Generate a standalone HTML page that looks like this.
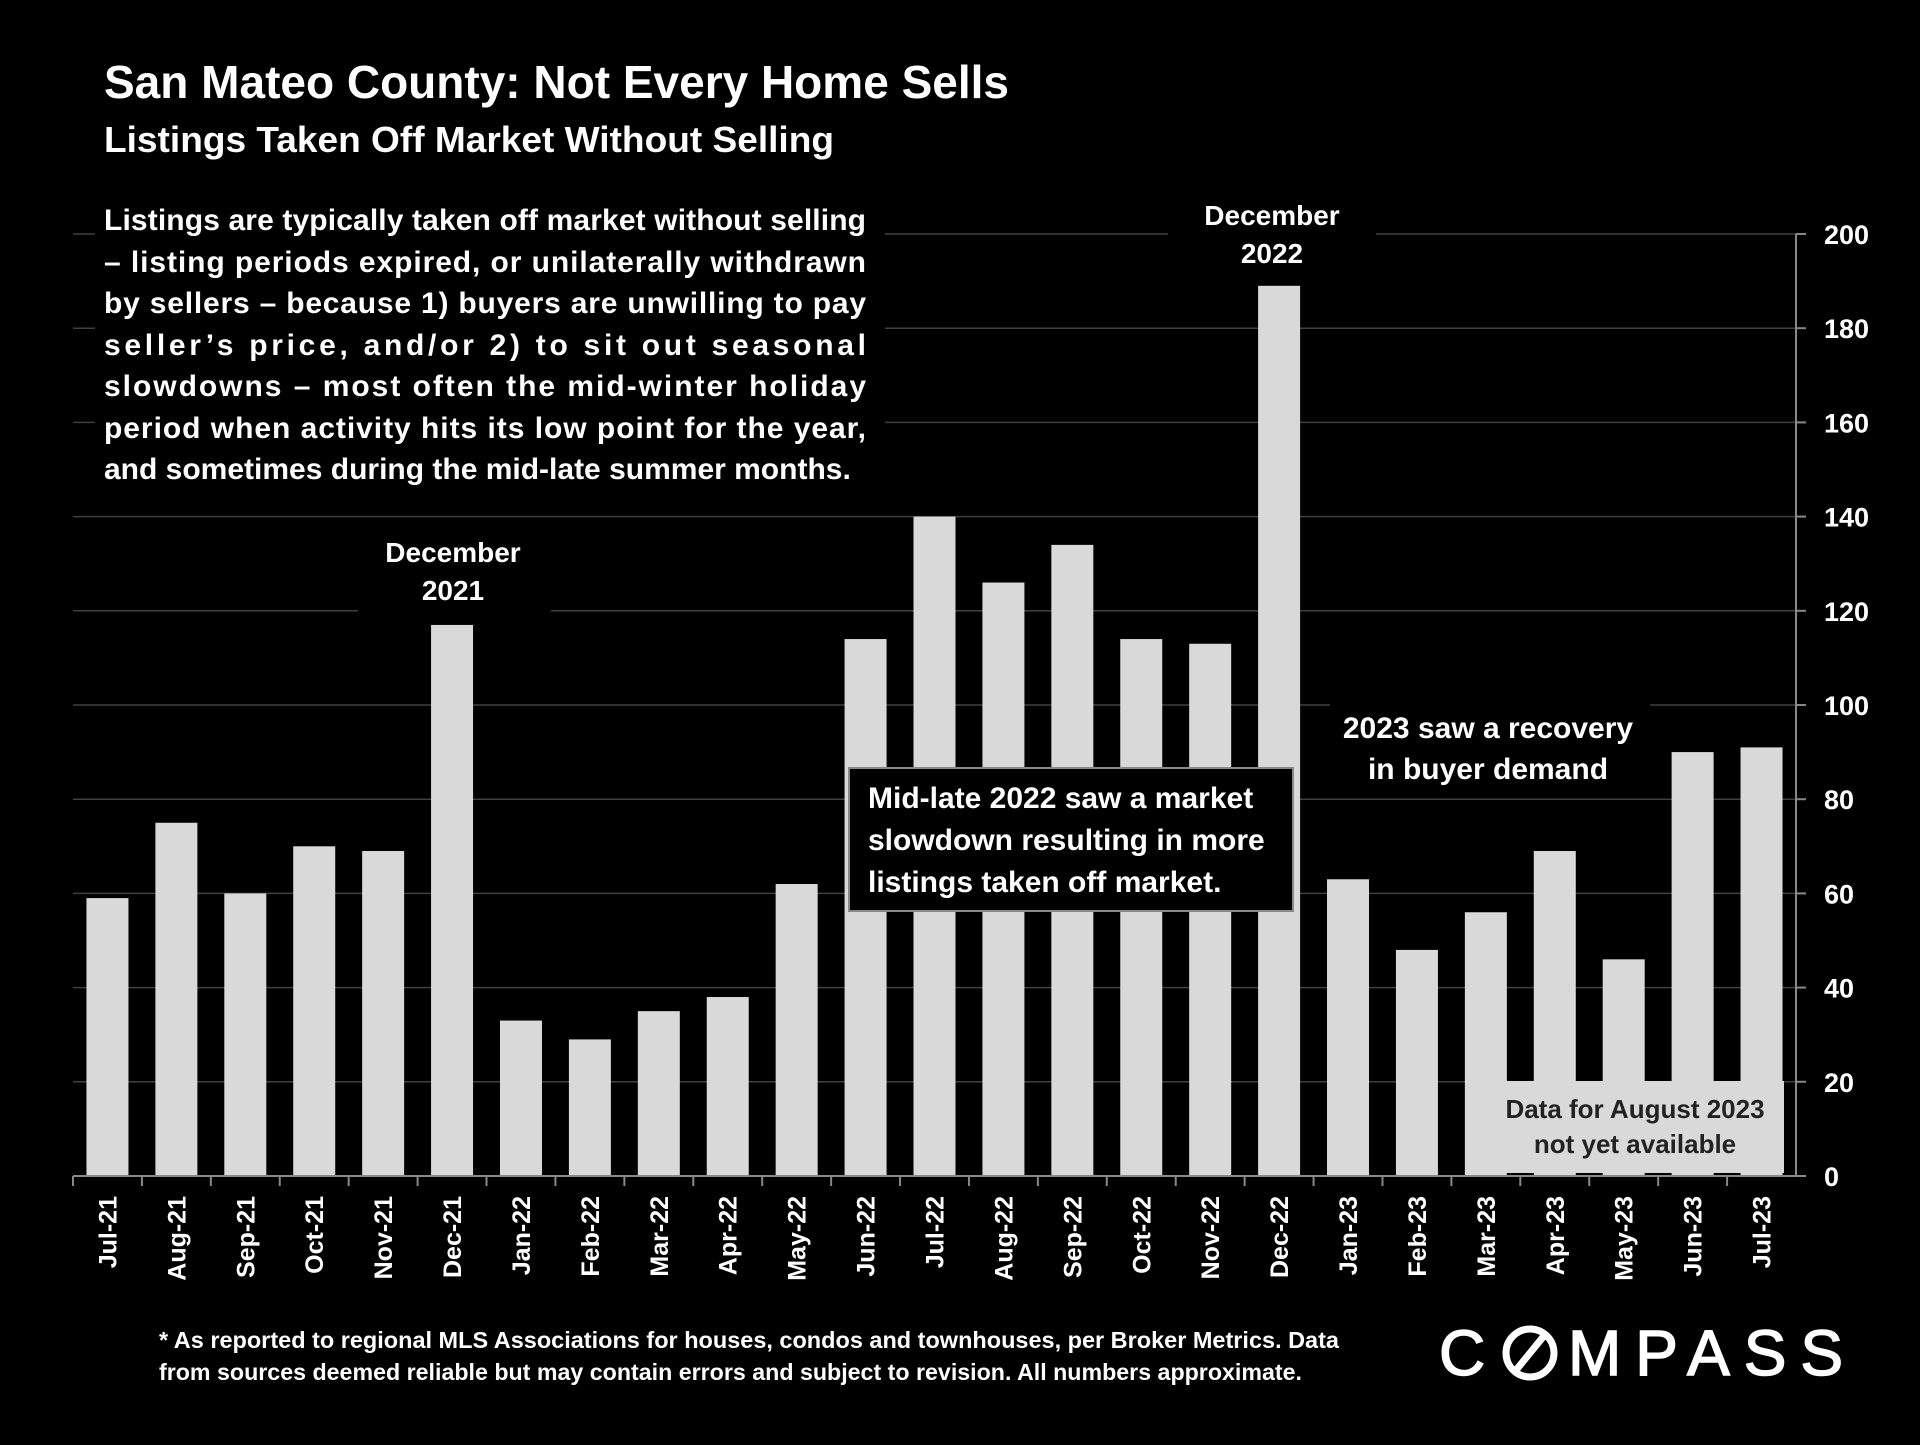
<!DOCTYPE html>
<html><head><meta charset="utf-8"><style>
body{margin:0;background:#000;width:1920px;height:1440px;overflow:hidden;font-family:"Liberation Sans",sans-serif;}
</style></head><body>
<svg id="chart" width="1920" height="1440" xmlns="http://www.w3.org/2000/svg" font-family="Liberation Sans, sans-serif">
<rect width="1920" height="1440" fill="#000"/>
<g id="grid"></g><g id="bars"></g><g id="axes"></g>
<text x="104" y="98" fill="#fff" font-size="46" font-weight="bold" textLength="905" lengthAdjust="spacingAndGlyphs">San Mateo County: Not Every Home Sells</text>
<text x="104" y="152" fill="#fff" font-size="36" font-weight="bold" textLength="730" lengthAdjust="spacingAndGlyphs">Listings Taken Off Market Without Selling</text>
<rect x="95" y="195" width="790" height="295" fill="#000"/>
<g fill="#fff" font-size="30" font-weight="bold">
<text x="104" y="230" textLength="762" lengthAdjust="spacing">Listings are typically taken off market without selling</text>
<text x="104" y="272" textLength="762" lengthAdjust="spacing">– listing periods expired, or unilaterally withdrawn</text>
<text x="104" y="313" textLength="762" lengthAdjust="spacing">by sellers – because 1) buyers are unwilling to pay</text>
<text x="104" y="355" textLength="762" lengthAdjust="spacing">seller’s price, and/or 2) to sit out seasonal</text>
<text x="104" y="396" textLength="762" lengthAdjust="spacing">slowdowns – most often the mid-winter holiday</text>
<text x="104" y="438" textLength="762" lengthAdjust="spacing">period when activity hits its low point for the year,</text>
<text x="104" y="479">and sometimes during the mid-late summer months.</text>
</g>
<rect x="358" y="525" width="193" height="88" fill="#000"/>
<g fill="#fff" font-size="28" font-weight="bold" text-anchor="middle">
<text x="453" y="562">December</text><text x="453" y="600">2021</text></g>
<rect x="1168" y="190" width="208" height="82" fill="#000"/>
<g fill="#fff" font-size="28" font-weight="bold" text-anchor="middle">
<text x="1272" y="225">December</text><text x="1272" y="263">2022</text></g>
<rect x="849" y="768" width="444" height="143" fill="#000" stroke="#888" stroke-width="2"/>
<g fill="#fff" font-size="30" font-weight="bold">
<text x="868" y="808">Mid-late 2022 saw a market</text>
<text x="868" y="850">slowdown resulting in more</text>
<text x="868" y="892">listings taken off market.</text></g>
<rect x="1330" y="700" width="320" height="88" fill="#000"/>
<g fill="#fff" font-size="30" font-weight="bold" text-anchor="middle">
<text x="1488" y="738">2023 saw a recovery</text><text x="1488" y="779">in buyer demand</text></g>
<rect x="1466" y="1081" width="318" height="92" fill="#d9d9d9"/>
<g fill="#222" font-size="26" font-weight="bold" text-anchor="middle">
<text x="1635" y="1118">Data for August 2023</text><text x="1635" y="1153">not yet available</text></g>
<g fill="#fff" font-size="23" font-weight="bold">
<text x="159" y="1348" textLength="1180" lengthAdjust="spacingAndGlyphs">* As reported to regional MLS Associations for houses, condos and townhouses, per Broker Metrics. Data</text>
<text x="159" y="1380" textLength="1143" lengthAdjust="spacingAndGlyphs">from sources deemed reliable but may contain errors and subject to revision. All numbers approximate.</text></g>
<g stroke="#fff" stroke-width="1.5">
<text x="1439" y="1375" fill="#fff" font-size="64" letter-spacing="10">C</text>
<circle cx="1530" cy="1353" r="24" fill="none" stroke="#fff" stroke-width="7"/>
<line x1="1517" y1="1369" x2="1543" y2="1337" stroke="#fff" stroke-width="7"/>
<text x="1568" y="1375" fill="#fff" font-size="64" textLength="275" lengthAdjust="spacing">MPASS</text></g>
</svg>
<script>
const categories=["Jul-21","Aug-21","Sep-21","Oct-21","Nov-21","Dec-21","Jan-22","Feb-22","Mar-22","Apr-22","May-22","Jun-22","Jul-22","Aug-22","Sep-22","Oct-22","Nov-22","Dec-22","Jan-23","Feb-23","Mar-23","Apr-23","May-23","Jun-23","Jul-23"];
const values=[59,75,60,70,69,117,33,29,35,38,62,114,140,126,134,114,113,189,63,48,56,69,46,90,91];
const yTicks=[0,20,40,60,80,100,120,140,160,180,200];
const NS="http://www.w3.org/2000/svg";
const L=73,R=1796,T=234,B=1176,yMax=200;
const y=v=>B-(v/yMax)*(B-T);
const bw=(R-L)/categories.length;
const x=i=>L+bw*(i+0.5);
function mk(tag,attrs,parent){const e=document.createElementNS(NS,tag);for(const k in attrs)e.setAttribute(k,attrs[k]);document.getElementById(parent).appendChild(e);return e;}
yTicks.forEach(t=>{
 if(t>0){const g=mk('line',{x1:L,x2:R+10,y1:y(t),y2:y(t),stroke:'#404040','stroke-width':1.5},'grid');
 
 }
 const tk=mk('line',{x1:R,x2:R+10,y1:y(t),y2:y(t),stroke:'#888','stroke-width':2},'axes');
 
 
 const lb=mk('text',{x:1824,y:y(t)+10,fill:'#fff','font-size':27,'font-weight':'bold'},'axes');
 lb.textContent=t;
 
 
});
values.forEach((v,i)=>{
 const r=mk('rect',{x:x(i)-21,y:y(v),width:42,height:B-y(v),fill:'#d9d9d9'},'bars');
 
 
});
const ax=mk('line',{x1:R,x2:R,y1:T,y2:B,stroke:'#888','stroke-width':2},'axes');


const xa=mk('line',{x1:L,x2:R,y1:B,y2:B,stroke:'#888','stroke-width':2},'axes');


categories.forEach((c,i)=>{
 const t=mk('line',{x1:L+bw*i,x2:L+bw*i,y1:B,y2:B+10,stroke:'#888','stroke-width':2},'axes');
 
 
 const lb=mk('text',{x:0,y:0,fill:'#fff','font-size':25,'font-weight':'bold','text-anchor':'end',transform:`translate(${x(i)+9},${B+20}) rotate(-90)`},'axes');
 lb.textContent=c;
 
 
});
</script>
</body></html>
